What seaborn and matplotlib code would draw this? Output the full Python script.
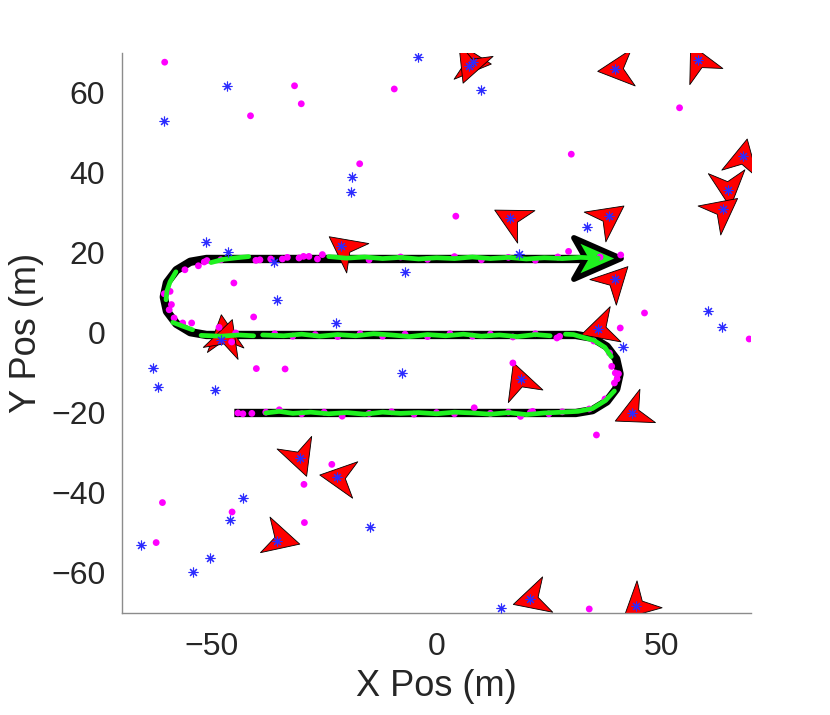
import matplotlib
matplotlib.use("Agg")
import matplotlib.pyplot as plt
from matplotlib.markers import MarkerStyle
from matplotlib.path import Path
from matplotlib.transforms import Affine2D
import numpy as np
import pandas as pd
import seaborn as sns

# ---------------- data (metres) ----------------
# ground-truth track (black)
track_x = [-45, 31, 34.7, 37.9, 40.0, 40.75, 40.0, 37.9, 34.7, 31,
           -51.2, -54.8, -57.9, -60.0, -60.7, -60.0, -57.9, -54.8, -51.2, 37]
track_y = [-20, -20, -19.3, -17.1, -14.0, -10.25, -6.5, -3.4, -1.2, -0.5,
           -0.5, 0.2, 2.3, 5.4, 9.0, 12.6, 15.7, 17.8, 18.5, 18.5]

# estimated track (green), several segments
est_seg = ([1] * 22 + [2] * 6 + [3] * 17 + [4] * 4 + [5] * 3 + [6] * 4 + [7] * 4 + [8] * 16)
est_x = [-38, -35, -32, -28, -24, -20, -16, -12, -8, -4, 0, 4, 8, 12, 16, 20, 24, 28, 31.5, 34.7, 37.6, 39.6,
         38.9, 37.5, 35, 32, 30.5, 28.7,
         25.3, 22, 18, 14, 10, 6, 2, -2, -6, -10, -14, -18, -22, -26, -30, -34, -38.7,
         -40.7, -44, -48, -52.4,
         -54.3, -56.5, -58.7,
         -60.2, -60.0, -59.3, -58.0,
         -50.2, -47.5, -44.5, -41.8,
         -24, -20, -16, -12, -8, -4, 0, 4, 8, 12, 16, 20, 24, 28, 32, 36]
est_y = [-20.0, -19.6, -20.1, -19.8, -20.2, -19.9, -20.3, -19.8, -20.1, -19.9, -20.2, -19.8, -20.0, -20.3,
         -19.9, -20.4, -20.0, -19.8, -19.6, -18.9, -16.9, -14.5,
         -5.9, -3.6, -1.8, -0.9, -0.4, -0.3,
         -0.7, -0.4, -0.9, -0.5, -0.8, -0.3, -0.7, -0.4, -0.9, -0.5, -0.2, -0.7, -0.4, -0.8, -0.3, -0.7, -0.5,
         -0.7, -0.5, -0.8, -0.6,
         0.8, 1.7, 2.65,
         8.3, 10.5, 12.8, 15.3,
         17.6, 18.4, 18.8, 19.1,
         19.1, 18.7, 19.0, 18.6, 18.9, 18.5, 18.8, 18.6, 19.0, 18.6, 18.9, 18.5, 18.8, 18.6, 18.9, 18.7]

# detections (magenta): along the track and clutter
det_x = [-44.2, -43.1, -41.1, -38.0, -35.0, -30, -25, -21, -15, -10, -5, 0, 4, 8.4, 12, 16, 18.7, 20.9, 21.4, 25, 28,
         39.0, 39.8, 40.5, 40.2, 39.6, 37.5, 34, 38.5, 35,
         26.8, 27.4, 22, 17, 12, 8, 3, -2, -7, -12, -17, -22, -27, -32, -36, -45.6, -44.7,
         -54.5, -56.5, -58.4, -59.5, -59.0, -60.6, -59.3, -56.0,
         -53.0, -51.7, -51.1, -48.0, -40.2, -39.3, -36.9, -34.3, -33.2, -30.6, -29.6, -28.4, -26.5, -25.4,
         -15, -8, -2, 4, 10, 16, 22, 27, 36.4,
         -60.5, -31.6, -30.1, -41.4, -9.4, -17.1, 54.1, 30.0, 4.3, -45.1, -40.7, -40.1, -33.7, 29.4, 46.3,
         40.9, 69.6, 17.0, 35.6, -61.0, -62.4, -45.5, -29.5, -23.3, -29.4, 34.0, 41.0, -48.4]
det_y = [-20.0, -20.2, -20.1, -19.8, -19.2, -20.2, -19.8, -20.8, -20.1, -19.7, -20.3, -19.9, -20.2, -18.7, -20.1,
         -19.8, -20.85, -19.85, -19.6, -20.2, -19.7,
         -8.35, -10.0, -10.2, -11.5, -12.5, -16.5, -19.0, -5.0, -2.0,
         -1.25, -0.85, -0.2, -1.0, -0.3, -0.8, -0.2, -0.9, -0.3, -0.8, -0.2, -0.9, -0.4, -0.8, -0.2, -2.25, 0.0,
         2.5, 2.5, 3.75, 5.8, 7.1, 9.8, 10.4, 15.8,
         16.8, 17.75, 18.1, 18.3, 18.15, 18.3, 18.5, 18.5, 18.9, 18.75, 19.15, 19.15, 18.5, 19.6,
         18.3, 19.0, 18.4, 19.1, 18.3, 18.9, 18.2, 19.0, 19.0,
         67.7, 61.8, 57.3, 54.3, 61.0, 42.3, 56.3, 44.7, 29.2, 12.5, 4.0, -8.9, -9.0, 20.4, 5.0,
         1.25, -1.5, -7.5, -25.5, -42.4, -52.4, -44.75, -37.85, -32.85, -47.4, -69.0, 19.5, 1.4]

# false alarms / target positions (blue asterisks)
ast_x = [-60.7, -46.7, -18.9, -19.1, -4.1, 7.2, 8.1, 10.0, 39.8, 58.3, 68.3, 64.8, 63.7, 16.3, 38.3, 33.5,
         -51.2, -46.4, -36.2, -21.2, -35.4, -22.4, -48.0, -63.2, -62.1, -49.2, 18.3, 39.8, 60.5, 63.6, 35.9,
         41.6, 18.7, 43.5, -6.9, -7.6, -65.8, -54.3, -50.4, -45.9, -43.0, -30.4, -22.1, -35.4, -14.8, 14.4,
         20.9, 44.4]
ast_y = [53.1, 61.7, 38.9, 35.3, 69.0, 66.8, 67.8, 60.7, 66.1, 68.2, 44.3, 35.8, 31.0, 28.8, 29.2, 26.5,
         22.7, 20.2, 17.8, 21.8, 8.2, 2.5, -1.7, -8.8, -13.5, -14.2, 19.8, 13.6, 5.6, 1.5, 1.0,
         -3.4, -11.5, -19.9, 15.3, -9.9, -52.9, -59.8, -56.3, -46.7, -41.2, -31.3, -35.9, -51.9, -48.5, -68.8,
         -66.4, -68.2]

# other targets (red darts): position and heading (deg, on screen)
tgt_x = [8.1, 7.2, 39.8, 58.3, 68.3, 64.8, 63.7, 16.3, 38.3, -20.9, -47.5, -46.9, 36.0, 18.3, 43.4,
         20.9, 44.4, -30.4, -22.1, -34.4, 39.8]
tgt_y = [67.8, 66.8, 65.9, 68.2, 44.3, 35.9, 30.9, 28.8, 29.2, 21.4, 0.3, -0.7, 0.9, -11.5, -19.9,
         -66.5, -68.2, -31.4, -35.9, -51.4, 13.6]
tgt_heading = [-5, -111, -174, 116, 78, -84, 38, 152, 36, 143, 97, 71, -163, 110, -155,
               -164, -137, -70, 172, -15, 46]

# end-of-track arrow
end_x = [35.8]
end_y = [18.8]

# ---------------- style ----------------
sns.set_theme(style="white")
plt.rcParams['font.family'] = ['Liberation Sans', 'DejaVu Sans']

GREEN = '#1ff21f'
fig = plt.figure(figsize=(8.3, 7.15), dpi=100)
ax = fig.add_axes([0.147, 0.1427, 0.7578, 0.7832])

# track
sns.lineplot(x=track_x, y=track_y, sort=False, estimator=None, color='black', lw=6.0,
             solid_capstyle='butt', ax=ax, zorder=1)

# red dart markers
dart = Path([(17, 0), (-17, 17.5), (-7.5, 0), (-17, -17.5), (17, 0)],
            [Path.MOVETO, Path.LINETO, Path.LINETO, Path.LINETO, Path.CLOSEPOLY])
for x, y, h in zip(tgt_x, tgt_y, tgt_heading):
    ax.plot([x], [y], ls='none',
            marker=MarkerStyle(dart, transform=Affine2D().rotate_deg(h), joinstyle='miter'),
            ms=26.5, mfc='#ff0000', mec='black', mew=0.6, zorder=2)

# end arrow
big = Path([(24, 0), (-24, 21), (-12, 0), (-24, -21), (24, 0)],
           [Path.MOVETO, Path.LINETO, Path.LINETO, Path.LINETO, Path.CLOSEPOLY])
ax.plot(end_x, end_y, ls='none', marker=MarkerStyle(big, joinstyle='miter'), ms=34.0,
        mfc=GREEN, mec='black', mew=4.0, zorder=2.5)

# detections
sns.scatterplot(x=det_x, y=det_y, color='#ff00ff', s=24, edgecolor='none', ax=ax, zorder=3)

# estimate
est = pd.DataFrame({'x': est_x, 'y': est_y, 'seg': est_seg})
sns.lineplot(data=est, x='x', y='y', units='seg', estimator=None, sort=False, color=GREEN,
             lw=3.4, ax=ax, zorder=4)

# asterisks
ax.plot(ast_x, ast_y, ls='none', marker=(8, 2, 0), ms=7, mec='#2b2bff', mew=0.8, zorder=5)

# ---------------- axes ----------------
ax.set_xlim(-70, 70)
ax.set_ylim(-70, 70)
ax.set_xticks([-50, 0, 50])
ax.set_yticks([-60, -40, -20, 0, 20, 40, 60])
for s in ['top', 'right']:
    ax.spines[s].set_visible(False)
for s in ['left', 'bottom']:
    ax.spines[s].set_color('#8c8c8c')
    ax.spines[s].set_linewidth(1.0)
ax.tick_params(direction='in', length=4.5, width=1, color='#8c8c8c', labelsize=23,
               labelcolor='#262626', pad=14)
ax.tick_params(axis='y', pad=12)
ax.set_xlabel('X Pos (m)', fontsize=26, color='#262626', labelpad=5)
ax.set_ylabel('Y Pos (m)', fontsize=26, color='#262626', labelpad=5)

fig.savefig('out.png', dpi=100, facecolor='white')
